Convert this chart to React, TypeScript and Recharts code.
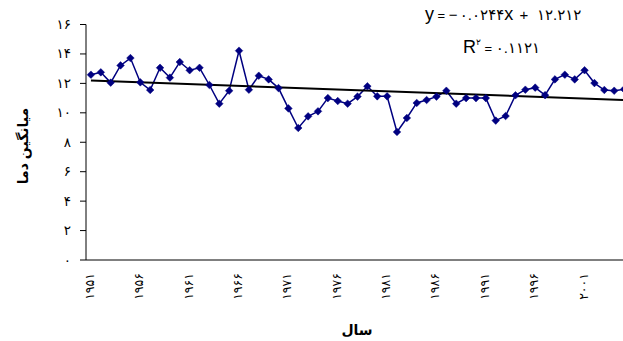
import React from 'react';
import { LineChart, Line, XAxis, YAxis, ReferenceLine, Label } from 'recharts';

const years = [
  1951, 1952, 1953, 1954, 1955, 1956, 1957, 1958, 1959, 1960,
  1961, 1962, 1963, 1964, 1965, 1966, 1967, 1968, 1969, 1970,
  1971, 1972, 1973, 1974, 1975, 1976, 1977, 1978, 1979, 1980,
  1981, 1982, 1983, 1984, 1985, 1986, 1987, 1988, 1989, 1990,
  1991, 1992, 1993, 1994, 1995, 1996, 1997, 1998, 1999, 2000,
  2001, 2002, 2003, 2004, 2005,
];

const temps = [
  12.59, 12.75, 12.05, 13.22, 13.72, 12.07, 11.55, 13.06, 12.39, 13.45,
  12.89, 13.06, 11.89, 10.62, 11.5, 14.22, 11.57, 12.52, 12.27, 11.68,
  10.3, 8.97, 9.76, 10.1, 11.0, 10.8, 10.62, 11.1, 11.8, 11.12,
  11.12, 8.7, 9.65, 10.67, 10.87, 11.1, 11.5, 10.62, 11.0, 11.0,
  11.0, 9.47, 9.78, 11.19, 11.57, 11.71, 11.2, 12.27, 12.59, 12.27,
  12.89, 12.02, 11.55, 11.5, 11.6,
];

const labelYears = [1951, 1956, 1961, 1966, 1971, 1976, 1981, 1986, 1991, 1996, 2001];
const yTicks = [0, 2, 4, 6, 8, 10, 12, 14, 16];

// trendline from the chart's own equation: y = -0.0244x + 12.212
const trendSlope = -0.0244;
const trendIntercept = 12.212;

const data = years.map((year, i) => ({ year, temp: temps[i] }));
const boundaryTicks = [...years.map((y) => y - 0.5), years[years.length - 1] + 0.5];
const trendStart = { x: years[0], y: trendIntercept + trendSlope * 1 };
const trendEnd = { x: years[years.length - 1], y: trendIntercept + trendSlope * years.length };

const faDigits = ['۰', '۱', '۲', '۳', '۴', '۵', '۶', '۷', '۸', '۹'];
const toFa = (v: number | string) => String(v).replace(/[0-9]/g, (d) => faDigits[Number(d)]);

const FONT = '"Liberation Sans", "DejaVu Sans", sans-serif';
const NAVY = '#000080';

const Diamond = (props: any) => {
  const { cx, cy } = props;
  if (cx == null || cy == null) return null;
  const r = 3.8;
  return (
    <polygon
      points={`${cx},${cy - r} ${cx + r},${cy} ${cx},${cy + r} ${cx - r},${cy}`}
      fill={NAVY}
      stroke={NAVY}
      strokeWidth={0.5}
    />
  );
};

const YearTick = (props: any) => {
  const { x, y, payload } = props;
  const tx = x - 1;
  const ty = y + 12;
  return (
    <text
      x={tx}
      y={ty}
      transform={`rotate(-90, ${tx}, ${ty})`}
      textAnchor="end"
      dominantBaseline="central"
      fontSize={12.5}
      letterSpacing={1}
      fontFamily={FONT}
      fill="#000"
    >
      {toFa(payload.value)}
    </text>
  );
};

const ValueTick = (props: any) => {
  const { x, y, payload } = props;
  return (
    <text
      x={x}
      y={y}
      textAnchor="end"
      dominantBaseline="central"
      fontSize={13.5}
      letterSpacing={1}
      fontFamily={FONT}
      fill="#000"
    >
      {toFa(payload.value)}
    </text>
  );
};

export default function App() {
  return (
    <div
      style={{
        position: 'fixed',
        left: 0,
        top: 0,
        width: 623,
        height: 341,
        overflow: 'hidden',
        background: '#fff',
      }}
    >
      <LineChart
        width={629}
        height={341}
        data={data}
        margin={{ top: 24.5, right: 0, bottom: 79, left: 0 }}
      >
        <XAxis
          xAxisId="b"
          dataKey="year"
          type="number"
          domain={[boundaryTicks[0], boundaryTicks[boundaryTicks.length - 1]]}
          ticks={boundaryTicks}
          interval={0}
          tick={false}
          tickSize={6}
          height={1}
          axisLine={{ stroke: '#000', strokeWidth: 1 }}
          tickLine={{ stroke: '#000', strokeWidth: 1 }}
        />
        <XAxis
          xAxisId="l"
          dataKey="year"
          type="number"
          domain={[boundaryTicks[0], boundaryTicks[boundaryTicks.length - 1]]}
          ticks={labelYears}
          interval={0}
          tick={<YearTick />}
          tickSize={0}
          tickMargin={0}
          height={1}
          axisLine={false}
          tickLine={false}
        >
          <Label
            content={() => (
              <text
                x={357}
                y={335}
                textAnchor="middle"
                fontSize={14}
                fontWeight="bold"
                fontFamily={FONT}
                fill="#000"
              >
                سال
              </text>
            )}
          />
        </XAxis>
        <YAxis
          domain={[0, 16]}
          ticks={yTicks}
          interval={0}
          width={86}
          tickSize={6}
          tickMargin={9}
          tick={<ValueTick />}
          axisLine={{ stroke: '#000', strokeWidth: 1 }}
          tickLine={{ stroke: '#000', strokeWidth: 1 }}
        >
          <Label
            content={() => (
              <text
                x={23}
                y={146}
                transform="rotate(-90, 23, 146)"
                textAnchor="middle"
                dominantBaseline="central"
                fontSize={14}
                fontWeight="bold"
                fontFamily={FONT}
                fill="#000"
              >
                میانگین دما
              </text>
            )}
          />
        </YAxis>
        <Line
          xAxisId="b"
          type="linear"
          dataKey="temp"
          stroke={NAVY}
          strokeWidth={1.5}
          dot={<Diamond />}
          activeDot={false}
          isAnimationActive={false}
        />
        <ReferenceLine
          xAxisId="b"
          segment={[trendStart, trendEnd]}
          stroke="#000"
          strokeWidth={2}
        />
      </LineChart>
      <svg
        width={623}
        height={341}
        style={{ position: 'absolute', left: 0, top: 0, pointerEvents: 'none' }}
      >
        <text x={425} y={20} fontFamily={FONT} fill="#000">
          <tspan fontSize={18}>y</tspan>
          <tspan fontSize={13}> = </tspan>
          <tspan fontSize={15} letterSpacing={2.2}>{'−' + toFa('0.0244')}</tspan>
          <tspan fontSize={18}>x</tspan>
          <tspan fontSize={15} letterSpacing={2.2}>{' + ' + toFa('12.212')}</tspan>
        </text>
        <text x={463} y={53} fontFamily={FONT} fill="#000">
          <tspan fontSize={18}>R</tspan>
          <tspan fontSize={9} dy={-8}>{toFa('2')}</tspan>
          <tspan fontSize={13} dy={8}> = </tspan>
          <tspan fontSize={15} letterSpacing={2.2}>{toFa('0.1121')}</tspan>
        </text>
      </svg>
    </div>
  );
}
